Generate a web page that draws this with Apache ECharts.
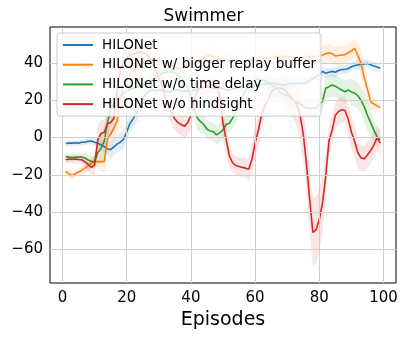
<!DOCTYPE html>
<html><head><meta charset="utf-8">
<script src="https://cdn.jsdelivr.net/npm/echarts@6/dist/echarts.min.js"></script>
<style>html,body{margin:0;padding:0;background:#fff}#c{width:407px;height:338px}</style>
</head><body><div id="c"></div>
<script>
const episodes = Array.from({length: 99}, (_, i) => i + 1);
const xTicks = [0, 20, 40, 60, 80, 100];
const yTicks = [-60, -40, -20, 0, 20, 40];
const names = ['HILONet', 'HILONet w/ bigger replay buffer', 'HILONet w/o time delay', 'HILONet w/o hindsight'];
const colors = ['#1f77b4', '#ff7f0e', '#2ca02c', '#d62728'];

const hilonet = [
 -3.2,-3,-3,-2.8,-3,-2.5,-2.5,-2,-1.8,-2.5,
 -3,-4,-4.8,-6,-6.5,-5,-3.5,-2.5,-1,3,
 7.5,10,13,17,21,23.5,25,25.5,25,25.5,
 25.5,25,24.5,25,25.5,25.5,25,25,25,25,
 25.5,26,26.5,27,27,27,26.5,26.5,26.5,26,
 25.5,25.5,26,26.5,27,27.5,27,27,27.5,28,
 28,28.5,28.5,29,29,29,28.5,28.5,28,28.5,
 29,29,29,29,29,29.5,30.5,31.5,32.5,34,
 35.5,34.5,35,35.5,35,36,36.5,36.5,37,38,
 38.5,39,39.3,39.5,39.8,39,38.4,37.8,37.2];
const hilonetSpread = [
 1.5,1.5,1.5,1.5,1.5,1.5,1.5,1.5,2,2,
 2.5,3,3.5,4,4.5,4.5,4.5,4.5,5,5,
 5,5,5,4.5,4,3.5,3,3,3,3,
 3,3,3,3,3,3,3,3,3,3,
 3,3,3,3,3,3,3,3,3,3,
 3,3,3,3,3,3,3,3,3,3,
 3,3,3,3,3,3,3,3,3,3,
 3,3,3,3,3,3,3,3,3,3,
 2.5,2.5,2.5,2.5,2.5,2.5,2.5,2.5,2.5,2.5,
 2.5,2.5,2.5,2.5,2.5,2.5,2.5,2.5,2.5];

const biggerBuffer = [
 -18.2,-19.5,-20.5,-19.4,-18.5,-17.5,-16.4,-15.2,-13.7,-12.9,
 -12.9,-12.9,-12.9,-1,2,5,9,20,28,32,
 34,36,38,39.5,40.5,41,41.5,42,41.5,41,
 40.5,40.5,40,39,38,37,37.5,38,39,40,
 40.5,41,41.6,43,44,44.3,43,42,41.6,41.5,
 41.5,41,41,40.5,40.7,41,41,41.2,41.5,42,
 42,42.5,42.5,43,43,43.4,43.4,43.5,43.4,43.4,
 43.4,43,42.5,42.5,43,43.4,43.4,43.4,43.4,44,
 44.3,45,45.5,45,43.8,44,44.3,44.5,45.5,46.5,
 47.9,44,39.8,32,26,19.3,18,17,16.1];
const biggerBufferSpread = [
 2,2,2,2,2,2,2.5,3,3,3,
 4,5,6,8,8,8,8,8,7,6,
 5,5,5,5,4,4,4,4,4,4,
 4,4,4,4,4,4,4,4,4,4,
 4,4,4,4,4,4,4,4,4,4,
 4,4,4,4,4,4,4,4,4,4,
 4,4,4,4,4,4,4,4,4,4,
 4,4,4,4,4,4,4,4,4,5,
 5,5,5,5,5,5,5,5,5,5,
 5,6,7,7,6,5,4,3,3];

const noTimeDelay = [
 -10.2,-10.5,-10.7,-10.6,-10.5,-10.5,-11,-12,-12.9,-12.9,
 -8,-6,-2,8,15,18,20,22,24,25,
 26,26.5,27,27.5,28,29,30,31,32,33,
 34.5,35,35.2,35.4,35,33.5,32,30,27,22,
 16,10.5,8.5,7,4.5,3.5,3.2,1.4,2.7,4.1,
 7,7.7,10.4,14,18,22,25,28,30,31,
 31.5,31,30.5,29.5,28.5,27,25.5,24,23,22.9,
 21.5,20,19.3,18,17,15.7,15.7,15.7,15.7,18,
 19.3,26.5,27.3,28.2,27.5,26.5,25.5,24.6,25.5,24.5,
 23.8,22.5,20,16.6,12,8,4,0.5,-1.2];
const noTimeDelaySpread = [
 2,2,2,2,2,2.5,3,3,3,4,
 6,8,9,9,8,7,6,5,5,5,
 5,5,5,5,5,5,5,5,5,5,
 5,5,5,5,5,5,5,5,5,5,
 5,6,6,5,5,5,5,5,5,5,
 5,5,5,6,6,5,5,5,5,5,
 5,5,5,5,5,5,5,5,5,5,
 5,5,5,5,5,5,5,5,5,5,
 5,6,6,6,6,6,6,6,6,7,
 7,7,7,8,8,7,6,5,4];

const noHindsight = [
 -11.9,-11.5,-11.6,-11.5,-11.8,-11.9,-13,-14.5,-16,-14.6,
 -1.2,2.3,2.7,7.5,8,10.4,25,36,41,43,
 44.5,45,45.5,46,45.5,45,43,40,36,32,
 28,22,17,13,10,8,7,6,8,12,
 20,25,27,27.5,28,28,28,27.5,22,7.7,
 -1.2,-10,-13.5,-15,-15.5,-16,-16.4,-17,-11.9,-3,
 4,12,17,20,24,26,26.5,26.5,26,24,
 22,20,18,12,2,-14,-33,-50.9,-49.4,-44,
 -35,-20.9,-2,4,12,14,15,14.5,10,3,
 -2,-8,-11,-11.4,-9.3,-7,-4,0,-3];
const noHindsightSpread = [
 2,2,2,2,2,2.5,3,3,4,5,
 7,7,7,7,7,7,8,7,6,5,
 5,5,5,5,5,5,5,5,5,6,
 7,7,7,6,6,6,6,6,7,7,
 7,6,5,5,5,5,5,6,8,10,
 8,6,5,5,5,5,5,6,8,9,
 8,7,6,6,6,5,5,6,8,10,
 10,10,12,14,15,16,17,18,18,17,
 15,12,9,8,7,7,7,7,8,9,
 9,8,7,7,7,7,7,7,7];

const means = [hilonet, biggerBuffer, noTimeDelay, noHindsight];
const spreads = [hilonetSpread, biggerBufferSpread, noTimeDelaySpread, noHindsightSpread];

const FONT = 'DejaVu Sans';
const minus = v => String(v).replace('-', '\u2212');

const series = [];
// grid lines
series.push({
  type: 'line', data: [], silent: true, z: 0,
  markLine: {
    silent: true, symbol: 'none', animation: false, label: {show: false},
    lineStyle: {color: '#cfcfcf', width: 1, type: 'solid'},
    data: xTicks.map(v => ({xAxis: v})).concat(yTicks.map(v => ({yAxis: v})))
  }
});
// bands + lines, in matplotlib draw order
means.forEach((m, k) => {
  const s = spreads[k];
  series.push({
    type: 'line', name: names[k], data: episodes.map((e, i) => [e, m[i]]),
    symbol: 'none', lineStyle: {color: colors[k], width: 1.6}, itemStyle: {color: colors[k]},
    z: 2 + k * 0.01 + 0.005, animation: false
  });
  series.push({
    type: 'custom', silent: true, clip: true, animation: false,
    z: 2 + k * 0.01 + 0.006,
    data: episodes.map((e, i) => [e, m[i] - s[i], m[i] + s[i]]),
    encode: {x: 0, y: [1, 2]},
    renderItem: (params, api) => {
      if (params.dataIndex !== 0) return null;
      const pts = [];
      for (let i = 0; i < episodes.length; i++) pts.push(api.coord([episodes[i], m[i] + s[i]]));
      for (let i = episodes.length - 1; i >= 0; i--) pts.push(api.coord([episodes[i], m[i] - s[i]]));
      return {type: 'polygon', shape: {points: pts}, style: {fill: colors[k], opacity: 0.12}};
    }
  });
});

const chart = echarts.init(document.getElementById('c'), null, {renderer: 'canvas'});
chart.setOption({
  animation: false,
  backgroundColor: '#fff',
  title: {
    text: 'Swimmer', left: 'center', top: 3,
    textStyle: {fontFamily: FONT, fontSize: 17, fontWeight: 'normal', color: '#000'}
  },
  grid: {left: 50, right: 11, top: 27, bottom: 55, show: true, borderColor: '#000', borderWidth: 1, backgroundColor: 'transparent'},
  legend: {
    z: 20, zlevel: 0,
    data: names, orient: 'vertical', left: 57, top: 33, padding: [5, 5, 5, 5],
    itemWidth: 30, itemHeight: 14, itemGap: 5.7,
    itemStyle: {opacity: 0, borderWidth: 0},
    lineStyle: {width: 2},
    backgroundColor: 'rgba(255,255,255,0.82)', borderColor: '#cccccc', borderWidth: 1, borderRadius: 3,
    textStyle: {fontFamily: FONT, fontSize: 13.5, color: '#000', padding: [0, 0, 0, 4]}
  },
  xAxis: {
    type: 'value', min: -3.9, max: 103.9,
    name: 'Episodes', nameLocation: 'middle', nameGap: 27,
    nameTextStyle: {fontFamily: FONT, fontSize: 19, color: '#000'},
    axisLine: {lineStyle: {color: '#000', width: 1}},
    axisTick: {show: true, length: 4, lineStyle: {color: '#000'}, customValues: xTicks},
    axisLabel: {fontFamily: FONT, fontSize: 15, color: '#000', margin: 8, customValues: xTicks, formatter: minus},
    splitLine: {show: false}
  },
  yAxis: {
    type: 'value', min: -78, max: 59.3,
    axisLine: {show: true, lineStyle: {color: '#000', width: 1}},
    axisTick: {show: true, length: 4, lineStyle: {color: '#000'}, customValues: yTicks},
    axisLabel: {fontFamily: FONT, fontSize: 15, color: '#000', margin: 7, customValues: yTicks, formatter: minus},
    splitLine: {show: false}
  },
  series: series
});
</script>
</body></html>
